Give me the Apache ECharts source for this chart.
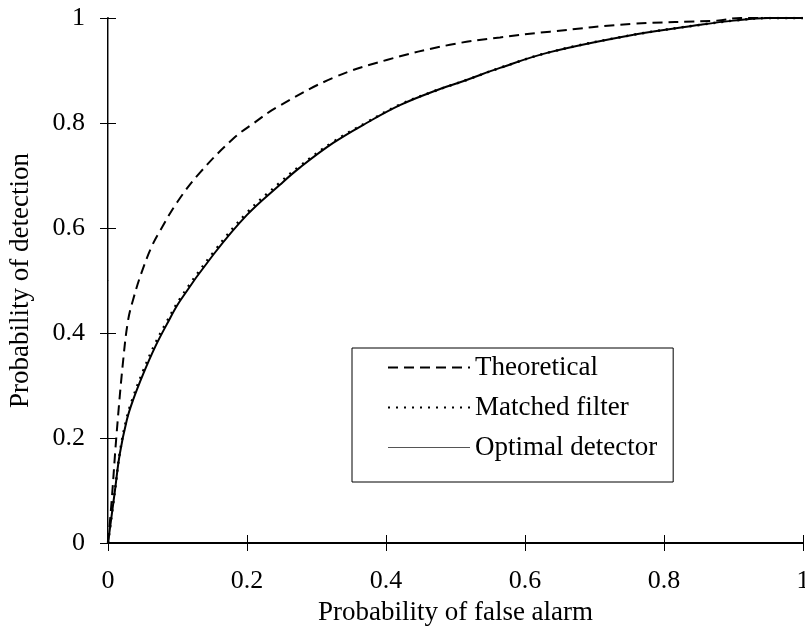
<!DOCTYPE html>
<html lang="en">
<head>
  <meta charset="UTF-8">
  <title>ROC</title>
  <style>
    html, body { margin: 0; padding: 0; background: #fff; }
    #main { width: 805px; height: 636px; }
  </style>
</head>
<body>
  <div id="main"></div>
  <script src="https://cdn.jsdelivr.net/npm/echarts@6/dist/echarts.min.js"></script>
  <script>
    // 数据
    var theoX = [0, 0.005, 0.0125, 0.022, 0.029, 0.036, 0.048, 0.063, 0.075, 0.1, 0.132, 0.18, 0.21, 0.243, 0.324, 0.401, 0.492, 0.564, 0.636, 0.756, 0.876, 0.91, 1];
    var theoY = [0, 0.076, 0.21, 0.35, 0.425, 0.463, 0.514, 0.565, 0.595, 0.65, 0.705, 0.77, 0.80, 0.83, 0.886, 0.92, 0.949, 0.963, 0.974, 0.989, 0.995, 1, 1];

    var matchX = [0, 0.010, 0.017, 0.027, 0.036, 0.051, 0.068, 0.084, 0.104, 0.152, 0.2, 0.247, 0.276, 0.324, 0.372, 0.42, 0.468, 0.516, 0.564, 0.636, 0.756, 0.852, 0.9, 0.95, 1];
    var matchY = [0, 0.10, 0.172, 0.238, 0.277, 0.329, 0.38, 0.42, 0.466, 0.554, 0.629, 0.686, 0.718, 0.764, 0.801, 0.835, 0.86, 0.882, 0.905, 0.935, 0.968, 0.987, 0.995, 1, 1];

    var optX = [0, 0.010, 0.017, 0.027, 0.036, 0.051, 0.068, 0.084, 0.104, 0.152, 0.2, 0.247, 0.276, 0.324, 0.372, 0.42, 0.468, 0.516, 0.564, 0.636, 0.756, 0.852, 0.9, 0.95, 1];
    var optY = [0, 0.10, 0.17, 0.234, 0.272, 0.323, 0.374, 0.415, 0.462, 0.55, 0.625, 0.682, 0.715, 0.762, 0.80, 0.834, 0.86, 0.882, 0.905, 0.935, 0.968, 0.987, 0.995, 1, 1];

    var seriesNames = ['Theoretical', 'Matched filter', 'Optimal detector'];
    var xTitle = 'Probability of false alarm';
    var yTitle = 'Probability of detection';

    function pairs(xs, ys) {
      var out = [];
      for (var i = 0; i < xs.length; i++) {
        out.push([xs[i], ys[i]]);
      }
      return out;
    }

    var font = 'Liberation Serif';
    var myChart = echarts.init(document.getElementById('main'));

    var option = {
      animation: false,
      backgroundColor: '#fff',
      textStyle: { fontFamily: font, color: '#000' },
      grid: { left: 108, top: 18, right: 2, bottom: 93, outerBoundsMode: 'none' },
      legend: {
        orient: 'vertical',
        left: 352,
        top: 348,
        backgroundColor: '#fff',
        borderColor: '#000',
        borderWidth: 1,
        borderRadius: 0,
        padding: [6, 16, 21, 35],
        itemWidth: 82,
        itemHeight: 14,
        itemGap: 13,
        itemStyle: { opacity: 0 },
        textStyle: { fontFamily: font, fontSize: 27, lineHeight: 26, color: '#000' },
        data: [
          { name: seriesNames[0] },
          { name: seriesNames[1] },
          { name: seriesNames[2], lineStyle: { width: 1, color: '#555' } }
        ]
      },
      xAxis: [
        {
          type: 'value', position: 'bottom', min: 0, max: 1, interval: 0.2,
          name: xTitle, nameLocation: 'middle', nameGap: 56,
          nameTextStyle: { fontFamily: font, fontSize: 27, color: '#000' },
          axisLine: { lineStyle: { color: '#000', width: 2 } },
          axisTick: { length: 8, lineStyle: { color: '#000', width: 1 } },
          axisLabel: { fontFamily: font, fontSize: 26, color: '#000', margin: 25 },
          splitLine: { show: false }
        },
        {
          // 内侧刻度
          type: 'value', position: 'bottom', min: 0, max: 1, interval: 0.2,
          axisLine: { show: false },
          axisTick: { inside: true, length: 8, lineStyle: { color: '#000', width: 1 } },
          axisLabel: { show: false },
          splitLine: { show: false }
        },
        {
          type: 'value', position: 'top', min: 0, max: 1,
          axisLine: { lineStyle: { color: '#000', width: 2 } },
          axisTick: { show: false },
          axisLabel: { show: false },
          splitLine: { show: false }
        }
      ],
      yAxis: [
        {
          type: 'value', position: 'left', min: 0, max: 1, interval: 0.2,
          name: yTitle, nameLocation: 'middle', nameGap: 74,
          nameTextStyle: { fontFamily: font, fontSize: 27, color: '#000' },
          axisLine: { lineStyle: { color: '#000', width: 2 } },
          axisTick: { length: 8, lineStyle: { color: '#000', width: 1 } },
          axisLabel: { fontFamily: font, fontSize: 26, color: '#000', margin: 23 },
          splitLine: { show: false }
        },
        {
          type: 'value', position: 'left', min: 0, max: 1, interval: 0.2,
          axisLine: { show: false },
          axisTick: { inside: true, length: 8, lineStyle: { color: '#000', width: 1 } },
          axisLabel: { show: false },
          splitLine: { show: false }
        },
        {
          type: 'value', position: 'right', min: 0, max: 1,
          axisLine: { lineStyle: { color: '#888', width: 1 } },
          axisTick: { show: false },
          axisLabel: { show: false },
          splitLine: { show: false }
        }
      ],
      series: [
        {
          name: seriesNames[0], type: 'line', xAxisIndex: 0, yAxisIndex: 0,
          symbol: 'none', smooth: 0.4,
          lineStyle: { color: '#000', width: 2, type: [10, 6] },
          itemStyle: { color: '#000' },
          data: pairs(theoX, theoY)
        },
        {
          name: seriesNames[1], type: 'line', xAxisIndex: 0, yAxisIndex: 0,
          symbol: 'none', smooth: 0.4,
          lineStyle: { color: '#000', width: 2.5, type: [2, 6] },
          itemStyle: { color: '#000' },
          data: pairs(matchX, matchY)
        },
        {
          name: seriesNames[2], type: 'line', xAxisIndex: 0, yAxisIndex: 0,
          symbol: 'none', smooth: 0.4,
          lineStyle: { color: '#000', width: 2 },
          itemStyle: { color: '#000' },
          data: pairs(optX, optY)
        }
      ]
    };

    myChart.setOption(option);
  </script>
</body>
</html>
